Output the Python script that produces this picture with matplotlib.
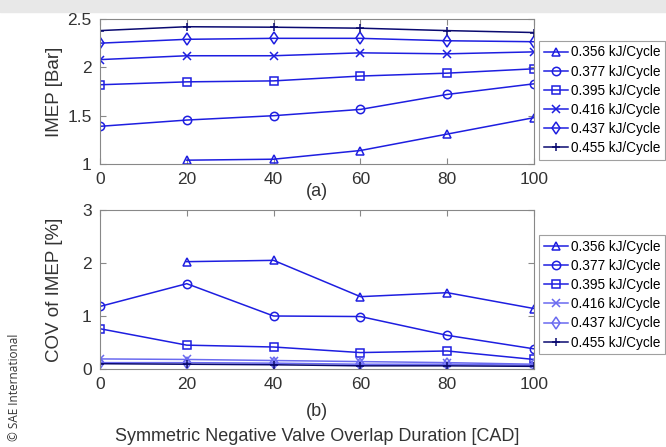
import matplotlib
matplotlib.use("Agg")
import matplotlib.pyplot as plt
import numpy as np

# NVO duration [CAD]
nvo = [0, 20, 40, 60, 80, 100]
labels = ["0.356 kJ/Cycle", "0.377 kJ/Cycle", "0.395 kJ/Cycle",
          "0.416 kJ/Cycle", "0.437 kJ/Cycle", "0.455 kJ/Cycle"]

# IMEP [Bar]
imep_356 = [np.nan, 1.04, 1.05, 1.14, 1.31, 1.48]
imep_377 = [1.39, 1.455, 1.50, 1.565, 1.72, 1.83]
imep_395 = [1.82, 1.85, 1.86, 1.91, 1.94, 1.985]
imep_416 = [2.08, 2.12, 2.12, 2.15, 2.14, 2.16]
imep_437 = [2.25, 2.29, 2.30, 2.30, 2.275, 2.265]
imep_455 = [2.38, 2.42, 2.415, 2.405, 2.38, 2.36]

# COV of IMEP [%]
cov_356 = [np.nan, 2.025, 2.05, 1.365, 1.44, 1.14]
cov_377 = [1.18, 1.61, 1.0, 0.99, 0.635, 0.38]
cov_395 = [0.76, 0.45, 0.415, 0.31, 0.34, 0.18]
cov_416 = [0.19, 0.18, 0.16, 0.14, 0.12, 0.09]
cov_437 = [0.12, 0.12, 0.11, 0.09, 0.09, 0.07]
cov_455 = [0.10, 0.09, 0.08, 0.06, 0.06, 0.05]

imep = [imep_356, imep_377, imep_395, imep_416, imep_437, imep_455]
cov = [cov_356, cov_377, cov_395, cov_416, cov_437, cov_455]
markers = ["^", "o", "s", "x", "d", "+"]
colors = ["#1e1ee0", "#1e1ee0", "#1e1ee0", "#1e1ee0", "#1e1ee0", "#0a0a70"]
cov_colors = ["#1e1ee0", "#1e1ee0", "#1e1ee0", "#6a6af0", "#6a6af0", "#0a0a70"]

plt.rcParams["font.family"] = ["Liberation Sans", "DejaVu Sans"]

fig = plt.figure(figsize=(6.66, 4.47), dpi=100)
fig.patch.set_facecolor("white")

# grey strip at top of the image
fig.patches.append(plt.Rectangle((0, 0.974), 1, 0.026, transform=fig.transFigure,
                                 color="#e8e8e8", zorder=-1))

ax1 = fig.add_axes([0.150, 0.633, 0.652, 0.3245])
ax2 = fig.add_axes([0.150, 0.1745, 0.652, 0.3557])


def style(ax):
    for s in ax.spines.values():
        s.set_color("#888888")
        s.set_linewidth(0.8)
    ax.tick_params(direction="in", top=True, right=True, length=4, pad=6,
                   color="#888888", labelsize=12.5, labelcolor="#333333")
    ax.set_xlim(0, 100)
    ax.set_xticks(nvo)


def legend(ax, y0):
    leg = ax.legend(loc="upper left", bbox_to_anchor=(1.005, y0), fontsize=9.8,
                    frameon=True, fancybox=False, handlelength=1.8,
                    borderpad=0.35, labelspacing=0.38, handletextpad=0.2,
                    borderaxespad=0.2)
    leg.get_frame().set_edgecolor("#888888")
    leg.get_frame().set_linewidth(0.8)


for y, m, c, lab in zip(imep, markers, colors, labels):
    ax1.plot(nvo, y, marker=m, color=c, lw=1.1, ms=6, mfc="none",
             mew=1.1, label=lab)
style(ax1)
ax1.set_ylim(1, 2.5)
ax1.set_yticks([1, 1.5, 2, 2.5])
ax1.set_yticklabels(["1", "1.5", "2", "2.5"])
ax1.set_ylabel("IMEP [Bar]", fontsize=13.5, color="#333333")
ax1.yaxis.set_label_coords(-0.086, 0.5)
ax1.text(0.5, -0.19, "(a)", transform=ax1.transAxes, ha="center", va="center",
         fontsize=13, color="#333333")
legend(ax1, 0.87)

for y, m, c, lab in zip(cov, markers, cov_colors, labels):
    ax2.plot(nvo, y, marker=m, color=c, lw=1.1, ms=6, mfc="none",
             mew=1.1, label=lab)
style(ax2)
ax2.set_ylim(0, 3)
ax2.set_yticks([0, 1, 2, 3])
ax2.set_ylabel("COV of IMEP [%]", fontsize=13.5, color="#333333")
ax2.yaxis.set_label_coords(-0.086, 0.5)
ax2.text(0.5, -0.265, "(b)", transform=ax2.transAxes, ha="center", va="center",
         fontsize=13, color="#333333")
ax2.set_xlabel("Symmetric Negative Valve Overlap Duration [CAD]", fontsize=13,
               color="#333333", labelpad=26)
legend(ax2, 0.86)

fig.text(0.022, 0.134, "© SAE International", rotation=90, ha="center",
         va="center", fontsize=8.5, color="#333333",
         family=["Open Sans", "DejaVu Sans"])

fig.savefig("out.png", dpi=100)
